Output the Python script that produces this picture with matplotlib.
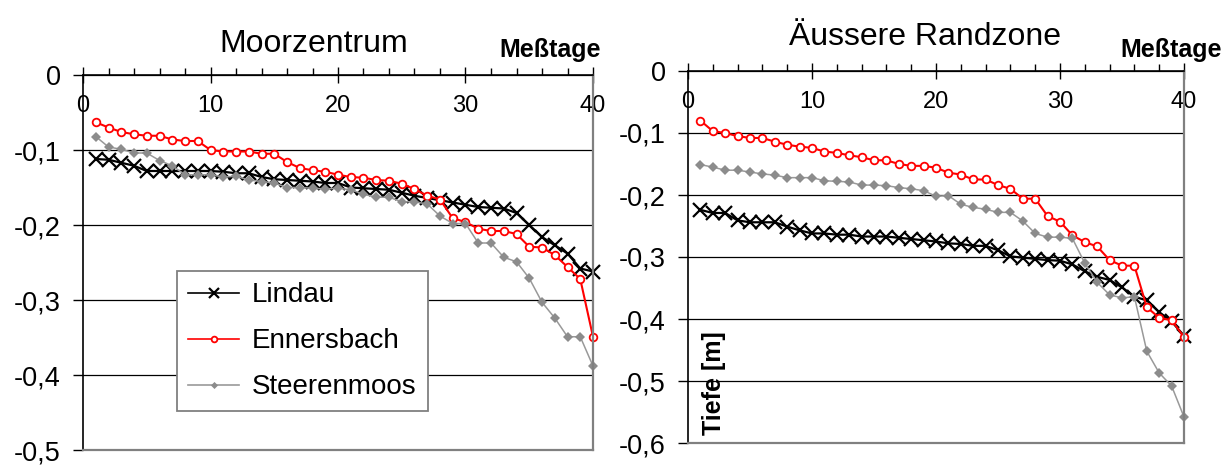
import matplotlib
matplotlib.use("Agg")
import matplotlib.pyplot as plt
from matplotlib.ticker import MultipleLocator, FuncFormatter

plt.rcParams['font.family'] = ['Liberation Sans', 'DejaVu Sans']

# Messtage 1..40
days = list(range(1, 41))

# Moorzentrum: Wasserstand [m]
zentrum_lindau = [
    -0.112, -0.113, -0.117, -0.121, -0.128, -0.128, -0.128, -0.128, -0.128, -0.128,
    -0.129, -0.131, -0.131, -0.136, -0.139, -0.140, -0.141, -0.142, -0.144, -0.144,
    -0.150, -0.151, -0.152, -0.153, -0.157, -0.161, -0.164, -0.167, -0.170, -0.173,
    -0.176, -0.177, -0.178, -0.184, -0.200, -0.216, -0.227, -0.238, -0.258, -0.262]
zentrum_ennersbach = [
    -0.063, -0.070, -0.076, -0.079, -0.081, -0.081, -0.086, -0.088, -0.088, -0.100,
    -0.102, -0.102, -0.102, -0.105, -0.105, -0.116, -0.124, -0.127, -0.129, -0.133,
    -0.136, -0.137, -0.140, -0.141, -0.145, -0.152, -0.161, -0.166, -0.191, -0.196,
    -0.205, -0.208, -0.208, -0.212, -0.229, -0.230, -0.240, -0.256, -0.272, -0.349]
zentrum_steerenmoos = [
    -0.082, -0.096, -0.099, -0.104, -0.104, -0.114, -0.121, -0.133, -0.133, -0.133,
    -0.136, -0.135, -0.140, -0.142, -0.144, -0.150, -0.150, -0.151, -0.152, -0.151,
    -0.153, -0.159, -0.163, -0.163, -0.169, -0.169, -0.172, -0.188, -0.198, -0.198,
    -0.224, -0.224, -0.243, -0.249, -0.271, -0.303, -0.324, -0.349, -0.349, -0.388]

# Aeussere Randzone: Wasserstand [m]
rand_lindau = [
    -0.224, -0.229, -0.229, -0.241, -0.244, -0.244, -0.244, -0.251, -0.257, -0.262,
    -0.262, -0.264, -0.264, -0.267, -0.267, -0.267, -0.269, -0.271, -0.273, -0.275,
    -0.278, -0.279, -0.282, -0.282, -0.289, -0.299, -0.301, -0.303, -0.305, -0.306,
    -0.312, -0.323, -0.332, -0.337, -0.349, -0.364, -0.370, -0.389, -0.404, -0.427]
rand_ennersbach = [
    -0.080, -0.097, -0.100, -0.105, -0.108, -0.108, -0.114, -0.119, -0.122, -0.124,
    -0.130, -0.132, -0.136, -0.139, -0.144, -0.144, -0.150, -0.153, -0.153, -0.156,
    -0.164, -0.167, -0.175, -0.175, -0.184, -0.190, -0.206, -0.206, -0.234, -0.243,
    -0.265, -0.276, -0.283, -0.305, -0.314, -0.314, -0.381, -0.398, -0.402, -0.429]
rand_steerenmoos = [
    -0.151, -0.155, -0.160, -0.160, -0.163, -0.166, -0.168, -0.172, -0.172, -0.172,
    -0.177, -0.178, -0.179, -0.184, -0.184, -0.185, -0.188, -0.190, -0.193, -0.202,
    -0.201, -0.215, -0.220, -0.223, -0.228, -0.228, -0.242, -0.262, -0.268, -0.268,
    -0.270, -0.310, -0.341, -0.361, -0.366, -0.364, -0.452, -0.487, -0.508, -0.558]

series_names = ["Lindau", "Ennersbach", "Steerenmoos"]
titles = ["Moorzentrum", "Äussere Randzone"]
x_label = "Meßtage"
y_label = "Tiefe [m]"

styles = [
    dict(color="black", lw=1.6, marker="x", ms=10, mew=1.6, mec="black"),
    dict(color="#ff0000", lw=1.5, marker="o", ms=5.5, mew=1.3, mfc="white", mec="#ff0000"),
    dict(color="#999999", lw=1.1, marker="D", ms=4.8, mew=0, mfc="#8c8c8c"),
]

fig = plt.figure(figsize=(12.3, 4.65), dpi=100)
W, H = 1230, 465


def add_axes_px(x0, x1, y_top, y_bot):
    return fig.add_axes([x0 / W, 1 - y_bot / H, (x1 - x0) / W, (y_bot - y_top) / H])


def comma_fmt(v, _):
    if abs(v) < 1e-9:
        return "0"
    return f"{v:.1f}".replace(".", ",")


def style_axes(ax, ymin):
    ax.set_xlim(0, 40)
    ax.set_ylim(ymin, 0)
    ax.yaxis.set_major_locator(MultipleLocator(0.1))
    ax.yaxis.set_major_formatter(FuncFormatter(comma_fmt))
    ax.xaxis.set_major_locator(MultipleLocator(10))
    ax.xaxis.set_minor_locator(MultipleLocator(2))
    ax.xaxis.tick_top()
    ax.tick_params(axis="x", which="major", direction="inout", length=12, width=1,
                   labelsize=17, labeltop=True, labelbottom=False, pad=-36)
    ax.tick_params(axis="x", which="minor", direction="out", length=5, width=1,
                   top=True, bottom=False)
    ax.tick_params(axis="y", which="major", direction="out", length=7, width=1,
                   labelsize=19.5, pad=9)
    ax.grid(axis="y", which="major", color="black", lw=0.9)
    ax.set_axisbelow(True)
    ax.spines["top"].set_color("black")
    ax.spines["top"].set_linewidth(1.2)
    ax.spines["left"].set_color("black")
    ax.spines["left"].set_linewidth(1.2)
    ax.spines["right"].set_color("#808080")
    ax.spines["right"].set_linewidth(1.6)
    ax.spines["bottom"].set_color("#808080")
    ax.spines["bottom"].set_linewidth(1.6)


# Moorzentrum
ax1 = add_axes_px(83, 593, 75, 450)
style_axes(ax1, -0.5)
for name, vals, st in zip(series_names,
                          [zentrum_lindau, zentrum_ennersbach, zentrum_steerenmoos],
                          styles):
    ax1.plot(days, vals, label=name, clip_on=False, **st)
ax1.set_title(titles[0], x=0.453, y=1.061, pad=0, fontsize=23)
ax1.text(1.016, 1.048, x_label, transform=ax1.transAxes, ha="right",
         va="baseline", fontsize=18, fontweight="bold")

handles, labels = ax1.get_legend_handles_labels()
leg = ax1.legend(handles, labels, loc="upper left", bbox_to_anchor=(0.184, 0.477),
                 borderaxespad=0, fontsize=20, frameon=True, fancybox=False,
                 edgecolor="#808080", framealpha=1, handlelength=1.85,
                 labelspacing=0.72, borderpad=0.4, handletextpad=0.45,
                 markerscale=0.75)
leg.get_frame().set_linewidth(1.3)
for h in leg.legend_handles:
    h.set_linewidth(1.2)

# Aeussere Randzone
ax2 = add_axes_px(688, 1184, 71, 443)
style_axes(ax2, -0.6)
for name, vals, st in zip(series_names,
                          [rand_lindau, rand_ennersbach, rand_steerenmoos],
                          styles):
    ax2.plot(days, vals, label=name, clip_on=False, **st)
ax2.set_title(titles[1], x=0.478, y=1.070, pad=0, fontsize=23)
ax2.text(1.077, 1.038, x_label, transform=ax2.transAxes, ha="right",
         va="baseline", fontsize=18, fontweight="bold")
ax2.text(0.052, 0.022, y_label, transform=ax2.transAxes, rotation=90,
         ha="center", va="bottom", fontsize=18, fontweight="bold")

fig.savefig("out.png", dpi=100, facecolor="white")
